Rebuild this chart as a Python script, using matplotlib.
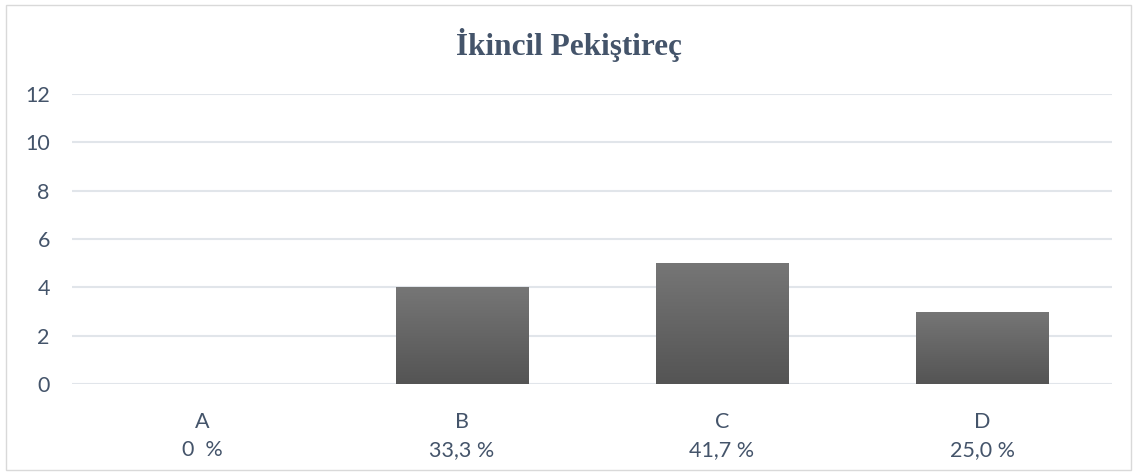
import numpy as np
import matplotlib
matplotlib.use("Agg")
import matplotlib.pyplot as plt
from matplotlib.patches import Rectangle

# Data
categories = ["A", "B", "C", "D"]
counts = [0, 4, 5, 3]
y_ticks = [0, 2, 4, 6, 8, 10, 12]
title = "İkincil Pekiştireç"


def pct_label(v, total):
    if v == 0:
        return "0  %"
    return f"{v / total * 100:.1f}".replace(".", ",") + " %"


total = sum(counts)
x_labels = [f"{c}\n{pct_label(v, total)}" for c, v in zip(categories, counts)]

text_color = "#44546A"
grid_color = "#E1E5EA"

fig = plt.figure(figsize=(11.37, 4.75), dpi=100)
fig.patch.set_facecolor("white")

# outer chart border
fig.add_artist(Rectangle((6 / 1137, 5 / 475), 1125 / 1137, 465 / 475,
                         transform=fig.transFigure, fill=False,
                         edgecolor="#D9D9D9", linewidth=1.0))

ax = fig.add_axes([72 / 1137, 1 - 384 / 475, (1112 - 72) / 1137, (384 - 94) / 475])
x = np.arange(len(categories))
bars = ax.bar(x, counts, width=0.508, color="none", edgecolor="none", zorder=3)

# vertical gray gradient fill for each bar
grad = np.linspace(0, 1, 256).reshape(-1, 1)
cmap = matplotlib.colors.LinearSegmentedColormap.from_list("g", ["#545454", "#767676"])
for b in bars:
    h = b.get_height()
    if h <= 0:
        continue
    x0 = b.get_x()
    im = ax.imshow(grad, extent=(x0, x0 + b.get_width(), 0, h), origin="lower",
                   cmap=cmap, aspect="auto", zorder=3, interpolation="bilinear")
    im.set_clip_path(b)

ax.set_xlim(-0.5, len(categories) - 0.5)
ax.set_ylim(0, 12)
ax.set_yticks(y_ticks)
ax.set_xticks(x)
ax.set_xticklabels(x_labels, linespacing=1.5)
ax.yaxis.grid(True, color=grid_color, linewidth=1.5, zorder=0)
ax.set_axisbelow(True)
for s in ax.spines.values():
    s.set_visible(False)
ax.tick_params(axis="both", length=0, labelsize=15.5, labelcolor=text_color)
ax.tick_params(axis="y", pad=16)
ax.tick_params(axis="x", pad=20)
for lbl in ax.get_xticklabels() + ax.get_yticklabels():
    lbl.set_fontfamily("Lato")

fig.text(0.5, 1 - 45 / 475, title, ha="center", va="center",
         fontsize=22.5, fontweight="bold", family="Liberation Serif", color=text_color)

fig.savefig("out.png", dpi=100, facecolor="white")
